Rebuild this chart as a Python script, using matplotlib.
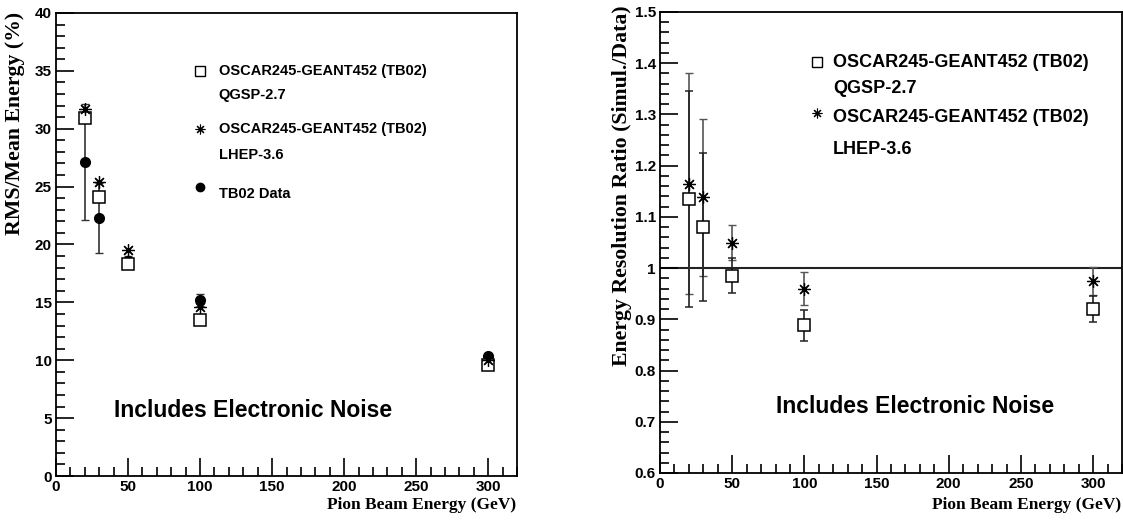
import numpy as np
import matplotlib.pyplot as plt
from matplotlib.ticker import MultipleLocator

# Pion beam energies (GeV)
energy = [20, 30, 50, 100, 300]

# RMS / mean energy (%)
res_qgsp = [30.9, 24.1, 18.3, 13.5, 9.6]
res_lhep = [31.7, 25.4, 19.5, 14.6, 10.0]
res_data = [27.1, 22.3, 18.6, 15.2, 10.4]
res_data_err = [5.0, 3.0, 0.4, 0.5, 0.2]

# Resolution ratio simulation / data
ratio_qgsp = [1.135, 1.080, 0.985, 0.888, 0.920]
ratio_qgsp_err = [0.21, 0.145, 0.034, 0.030, 0.025]
ratio_lhep = [1.165, 1.138, 1.050, 0.960, 0.975]
ratio_lhep_err = [0.215, 0.153, 0.034, 0.032, 0.027]

sans = 'Liberation Sans'
serif = 'Liberation Serif'
star = (8, 2, 0)

fig = plt.figure(figsize=(11.23, 5.23), dpi=100)
W, H = 1123.0, 523.0


def frame(ax, ymaj, ymin):
    ax.xaxis.set_major_locator(MultipleLocator(50))
    ax.xaxis.set_minor_locator(MultipleLocator(10))
    ax.yaxis.set_major_locator(MultipleLocator(ymaj))
    ax.yaxis.set_minor_locator(MultipleLocator(ymin))
    ax.tick_params(which='both', direction='in', top=False, right=False, width=1.2)
    ax.tick_params(which='major', length=13, labelsize=11, pad=3)
    ax.tick_params(which='minor', length=6.5)
    for s in ax.spines.values():
        s.set_linewidth(1.3)
    for lab in ax.get_xticklabels() + ax.get_yticklabels():
        lab.set_fontfamily(sans)
        lab.set_fontweight('bold')


# left panel: resolution
ax1 = fig.add_axes([56 / W, 1 - 476 / H, 461 / W, 463 / H])
ax1.set_xlim(0, 320)
ax1.set_ylim(0, 40)
frame(ax1, 5, 1)
ax1.errorbar(energy, res_data, yerr=res_data_err, fmt='o', color='black', ms=7,
             ecolor='#333333', elinewidth=1.2, capsize=3, capthick=1, zorder=3)
ax1.plot(energy, res_qgsp, 's', mfc='white', mec='black', ms=8.5, mew=1.1, zorder=4)
ax1.plot(energy, res_lhep, marker=star, ls='none', color='black', ms=9, mew=0.9, zorder=5)

# legend block
ax1.plot([100], [35], 's', mfc='white', mec='black', ms=7, mew=1)
ax1.plot([100], [30], marker=star, ls='none', color='black', ms=7, mew=0.8)
ax1.plot([100], [25], 'o', color='black', ms=6)
leg1 = [(35, 'OSCAR245-GEANT452 (TB02)'), (32.9, 'QGSP-2.7'), (30, 'OSCAR245-GEANT452 (TB02)'),
        (27.7, 'LHEP-3.6'), (24.4, 'TB02 Data')]
for y, t in leg1:
    ax1.text(113, y, t, fontfamily=sans, fontweight='bold', fontsize=10.5, va='center')
ax1.text(40, 5.7, 'Includes Electronic Noise', fontfamily=sans, fontweight='bold',
         fontsize=16.5, va='center')

fig.text(15 / W, 1 - 12 / H, 'RMS/Mean Energy (%)', rotation=90, ha='center', va='top',
         fontfamily=serif, fontweight='bold', fontsize=15.7)
fig.text(516 / W, 1 - 505 / H, 'Pion Beam Energy (GeV)', ha='right', va='center',
         fontfamily=serif, fontweight='bold', fontsize=12.5)

# right panel: ratio
ax2 = fig.add_axes([660 / W, 1 - 473 / H, 462 / W, 461 / H])
ax2.set_xlim(0, 320)
ax2.set_ylim(0.6, 1.5)
frame(ax2, 0.1, 0.02)
ax2.yaxis.set_major_formatter(plt.FuncFormatter(lambda v, p: '%g' % round(v, 2)))
ax2.axhline(1.0, color='#222222', lw=1.5, zorder=1)
ax2.errorbar(energy, ratio_qgsp, yerr=ratio_qgsp_err, fmt='s', mfc='white', mec='black',
             ms=8.5, mew=1.1, ecolor='#222222', elinewidth=1.2, capsize=3, capthick=1, zorder=3)
ax2.errorbar(energy, ratio_lhep, yerr=ratio_lhep_err, fmt='none', ecolor='#555555',
             elinewidth=1.2, capsize=3, capthick=1, zorder=2)
ax2.plot(energy, ratio_lhep, marker=star, ls='none', color='black', ms=9, mew=0.9, zorder=4)

# legend block
ax2.plot([109], [1.403], 's', mfc='white', mec='black', ms=7, mew=1)
ax2.plot([109], [1.303], marker=star, ls='none', color='black', ms=7, mew=0.8)
leg2 = [(1.401, 'OSCAR245-GEANT452 (TB02)'), (1.350, 'QGSP-2.7'), (1.295, 'OSCAR245-GEANT452 (TB02)'),
        (1.232, 'LHEP-3.6')]
for y, t in leg2:
    ax2.text(120, y, t, fontfamily=sans, fontweight='bold', fontsize=13, va='center')
ax2.text(80, 0.729, 'Includes Electronic Noise', fontfamily=sans, fontweight='bold',
         fontsize=16.5, va='center')

fig.text(622 / W, 1 - 5 / H, 'Energy Resolution Ratio (Simul./Data)', rotation=90,
         ha='center', va='top', fontfamily=serif, fontweight='bold', fontsize=15.7)
fig.text(1121 / W, 1 - 505 / H, 'Pion Beam Energy (GeV)', ha='right', va='center',
         fontfamily=serif, fontweight='bold', fontsize=12.5)

fig.savefig('out.png', dpi=100)
